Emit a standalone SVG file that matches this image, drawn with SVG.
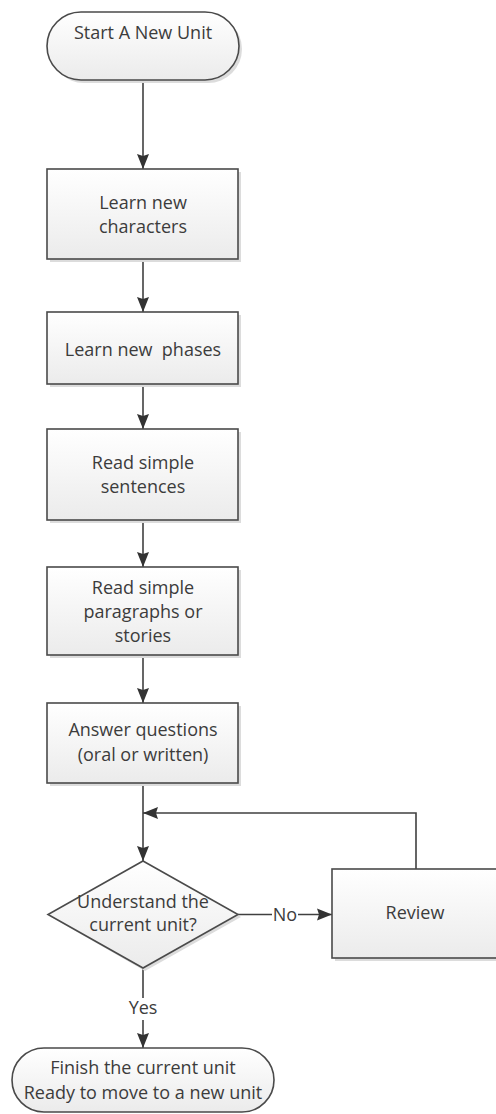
<svg xmlns="http://www.w3.org/2000/svg" width="496" height="1114" viewBox="0 0 496 1114">
<defs>
<linearGradient id="g" x1="0" y1="0" x2="0" y2="1">
<stop offset="0" stop-color="#ffffff"/>
<stop offset="1" stop-color="#ebebeb"/>
</linearGradient>
<marker id="ah" markerUnits="userSpaceOnUse" markerWidth="15" markerHeight="14" viewBox="0 0 15 12" refX="15" refY="6" orient="auto">
<path d="M0,0 L15,6 L0,12 L2,6 Z" fill="#333333"/>
</marker>
<style>
.shape{fill:url(#g);stroke:#4a4a4a;stroke-width:1.6}
.shadow{fill:#dcdcdc}
.t{font-family:"Open Sans","Liberation Sans",sans-serif;font-size:18px;fill:#3c3c3c;text-anchor:middle}
.c{fill:none;stroke:#404040;stroke-width:1.6}
.lbl{fill:#ffffff}
</style>
</defs>
<rect width="496" height="1114" fill="#ffffff"/>
<g id="connectors">
<path class="c" d="M143,80 V169" marker-end="url(#ah)"/>
<path class="c" d="M143,259 V312" marker-end="url(#ah)"/>
<path class="c" d="M143,384 V429" marker-end="url(#ah)"/>
<path class="c" d="M143,520 V567" marker-end="url(#ah)"/>
<path class="c" d="M143,655 V703" marker-end="url(#ah)"/>
<path class="c" d="M143,783 V861" marker-end="url(#ah)"/>
<path class="c" d="M416,869 V813 H143" marker-end="url(#ah)"/>
<path class="c" d="M238,914.5 H332" marker-end="url(#ah)"/>
<path class="c" d="M143,968 V1048" marker-end="url(#ah)"/>
<rect class="lbl" x="272" y="905" width="26" height="20"/>
<text class="t" x="285" y="921">No</text>
<rect class="lbl" x="128" y="998" width="30" height="22"/>
<text class="t" x="143" y="1014">Yes</text>
</g>
<g id="start">
<rect class="shadow" x="50" y="15" width="192" height="68" rx="34"/>
<rect class="shape" x="47" y="12" width="192" height="68" rx="34"/>
<text class="t" x="143" y="39">Start A New Unit</text>
</g>
<g id="learn-characters">
<rect class="shadow" x="50" y="172" width="191" height="90"/>
<rect class="shape" x="47" y="169" width="191" height="90"/>
<text class="t" x="143" y="209">Learn new</text>
<text class="t" x="143" y="233">characters</text>
</g>
<g id="learn-phases">
<rect class="shadow" x="50" y="315" width="191" height="72"/>
<rect class="shape" x="47" y="312" width="191" height="72"/>
<text class="t" x="143" y="356" xml:space="preserve">Learn new  phases</text>
</g>
<g id="read-sentences">
<rect class="shadow" x="50" y="432" width="191" height="91"/>
<rect class="shape" x="47" y="429" width="191" height="91"/>
<text class="t" x="143" y="469">Read simple</text>
<text class="t" x="143" y="493">sentences</text>
</g>
<g id="read-paragraphs">
<rect class="shadow" x="50" y="570" width="191" height="88"/>
<rect class="shape" x="47" y="567" width="191" height="88"/>
<text class="t" x="143" y="594">Read simple</text>
<text class="t" x="143" y="618">paragraphs or</text>
<text class="t" x="143" y="642">stories</text>
</g>
<g id="answer-questions">
<rect class="shadow" x="50" y="706" width="191" height="80"/>
<rect class="shape" x="47" y="703" width="191" height="80"/>
<text class="t" x="143" y="736">Answer questions</text>
<text class="t" x="143" y="761">(oral or written)</text>
</g>
<g id="decision">
<polygon class="shadow" points="145,864 241,917 145,971 51,917"/>
<polygon class="shape" points="143,861 238,914.5 143,968 48,914.5"/>
<text class="t" x="143" y="908">Understand the</text>
<text class="t" x="143" y="931">current unit?</text>
</g>
<g id="review">
<rect class="shadow" x="335" y="872" width="170" height="89"/>
<rect class="shape" x="332" y="869" width="170" height="89"/>
<text class="t" x="415" y="919">Review</text>
</g>
<g id="finish">
<rect class="shape" x="12" y="1048" width="262" height="64" rx="32"/>
<text class="t" x="143" y="1074">Finish the current unit</text>
<text class="t" x="143" y="1099">Ready to move to a new unit</text>
</g>
</svg>
